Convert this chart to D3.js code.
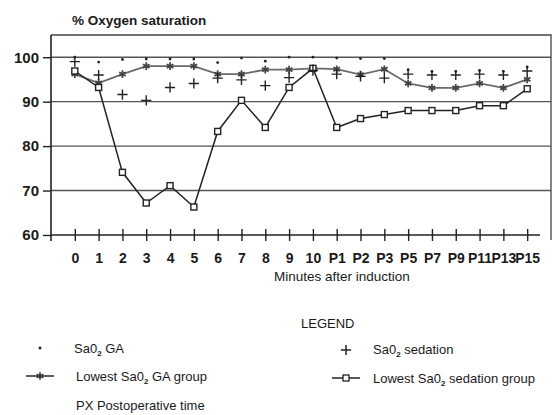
<!DOCTYPE html>
<html>
<head>
<meta charset="utf-8">
<script src="https://cdn.jsdelivr.net/npm/d3@7"></script>
<style>
  body { margin: 0; background: #fff; }
  text { font-family: "Liberation Sans", Arial, sans-serif; fill: #1a1a1a; }
</style>
</head>
<body>
<svg id="chart" width="552" height="415"></svg>
<script>
// data
const categories = ["0", "1", "2", "3", "4", "5", "6", "7", "8", "9", "10",
  "P1", "P2", "P3", "P5", "P7", "P9", "P11", "P13", "P15"];
const gaValues = [100, 98.9, 99.5, 99.6, 99.6, 99.6, 98.8, 99.8, 99.1, 100, 100,
  99.8, 99.7, 99.7, 97.2, 96.8, 96.8, 97, 96.8, 97.8];
const sedationValues = [99, 96, 91.6, 90.3, 93.2, 94.1, 95.3, 94.9, 93.6, 95.4, 97,
  96.2, 95.7, 95.3, 96.2, 96, 96, 96.2, 96, 96.9];
const lowestGA = [96.2, 94.2, 96.2, 98, 98, 98, 96.2, 96.2, 97.2, 97.2, 97.5,
  97.3, 96.1, 97.3, 94.1, 93.1, 93.1, 94.1, 93.1, 95];
const lowestSedation = [96.9, 93.2, 74.1, 67.2, 71.1, 66.3, 83.3, 90.3, 84.2, 93.2, 97.5,
  84.2, 86.2, 87.1, 88, 88, 88, 89.1, 89.1, 92.9];
const yTicks = [60, 70, 80, 90, 100];

const svg = d3.select("#chart");

const x = d3.scalePoint().domain(categories).range([51, 551]).padding(1);
const y = d3.scaleLinear().domain([60, 105]).range([235, 35]);

// gridlines
svg.append("g")
  .selectAll("line")
  .data(yTicks.filter(d => d > 60))
  .join("line")
  .attr("x1", 51).attr("x2", 551)
  .attr("y1", d => y(d)).attr("y2", d => y(d))
  .attr("stroke", "#555").attr("stroke-width", 1.4);

// frame
svg.append("path")
  .attr("d", `M51,${y(105)}H551V${y(60) + 5}`)
  .attr("fill", "none").attr("stroke", "#444").attr("stroke-width", 1.3);

// y axis
const yAxis = svg.append("g").attr("transform", "translate(51,0)")
  .call(d3.axisLeft(y).tickValues(yTicks).tickSize(8).tickPadding(4));
yAxis.select(".domain").attr("d", `M0,${y(105)}V${y(60) + 6}`)
  .attr("stroke", "#222").attr("stroke-width", 1.6);
yAxis.selectAll(".tick line").attr("stroke", "#222").attr("stroke-width", 1.4);
yAxis.selectAll(".tick text")
  .style("font-family", "'Liberation Sans', Arial, sans-serif")
  .style("font-size", "15px").style("font-weight", "bold").attr("fill", "#1a1a1a");

// x axis
const xAxis = svg.append("g").attr("transform", `translate(0,${y(60)})`)
  .call(d3.axisBottom(x).tickSize(6).tickPadding(12));
xAxis.select(".domain").attr("d", "M51,0H540").attr("stroke", "#222").attr("stroke-width", 1.6);
xAxis.selectAll(".tick line").attr("y1", -6).attr("y2", 6)
  .attr("stroke", "#222").attr("stroke-width", 1.4);
xAxis.selectAll(".tick text")
  .style("font-family", "'Liberation Sans', Arial, sans-serif")
  .style("font-size", "14px").style("font-weight", "bold").attr("fill", "#1a1a1a");

// titles
svg.append("text").attr("x", 72).attr("y", 25)
  .style("font-size", "13.5px").style("font-weight", "bold").text("% Oxygen saturation");
svg.append("text").attr("x", 274).attr("y", 281)
  .style("font-size", "13.5px").text("Minutes after induction");

// series
const lineGen = d3.line().x((d, i) => x(categories[i])).y(d => y(d));

svg.append("path").datum(lowestGA)
  .attr("d", lineGen).attr("fill", "none")
  .attr("stroke", "#6a6a6a").attr("stroke-width", 1.8);
svg.append("path").datum(lowestSedation)
  .attr("d", lineGen).attr("fill", "none")
  .attr("stroke", "#222").attr("stroke-width", 1.5);

const star = d3.symbol().type(d3.symbolAsterisk).size(40);
const plus = d3.symbol().type(d3.symbolPlus).size(36);

svg.append("g").selectAll("path")
  .data(lowestGA).join("path")
  .attr("transform", (d, i) => `translate(${x(categories[i])},${y(d)})`)
  .attr("d", star).attr("fill", "none")
  .attr("stroke", "#444").attr("stroke-width", 1.8);

svg.append("g").selectAll("rect")
  .data(lowestSedation).join("rect")
  .attr("x", (d, i) => x(categories[i]) - 3).attr("y", d => y(d) - 3)
  .attr("width", 6).attr("height", 6)
  .attr("fill", "#fff").attr("stroke", "#222").attr("stroke-width", 1.4);

svg.append("g").selectAll("path")
  .data(sedationValues).join("path")
  .attr("transform", (d, i) => `translate(${x(categories[i])},${y(d)})`)
  .attr("d", plus).attr("fill", "none")
  .attr("stroke", "#222").attr("stroke-width", 1.4);

svg.append("g").selectAll("circle")
  .data(gaValues).join("circle")
  .attr("cx", (d, i) => x(categories[i])).attr("cy", d => y(d))
  .attr("r", 1.4).attr("fill", "#222");

// legend
svg.append("text").attr("x", 301).attr("y", 328)
  .style("font-size", "13px").text("LEGEND");

function sa0Label(g, xPos, yPos, before, after) {
  const t = g.append("text").attr("x", xPos).attr("y", yPos).style("font-size", "13px");
  t.append("tspan").text(before + "Sa0");
  t.append("tspan").attr("dy", 3).style("font-size", "8px").style("font-weight", "bold").text("2");
  t.append("tspan").attr("dy", -3).text(after);
}

const legend = svg.append("g");
legend.append("circle").attr("cx", 40).attr("cy", 348).attr("r", 1.5).attr("fill", "#222");
sa0Label(legend, 74, 353, "", " GA");

legend.append("line").attr("x1", 26).attr("x2", 54).attr("y1", 376).attr("y2", 376)
  .attr("stroke", "#333").attr("stroke-width", 1.6);
legend.append("path").attr("transform", "translate(40,376)")
  .attr("d", star).attr("fill", "none").attr("stroke", "#333").attr("stroke-width", 1.6);
sa0Label(legend, 76, 381, "Lowest ", " GA group");

legend.append("text").attr("x", 76).attr("y", 410)
  .style("font-size", "13px").text("PX Postoperative time");

legend.append("path").attr("transform", "translate(346,350)")
  .attr("d", plus).attr("fill", "none").attr("stroke", "#222").attr("stroke-width", 1.5);
sa0Label(legend, 373, 354, "", " sedation");

legend.append("line").attr("x1", 332).attr("x2", 360).attr("y1", 378).attr("y2", 378)
  .attr("stroke", "#222").attr("stroke-width", 1.5);
legend.append("rect").attr("x", 343).attr("y", 375).attr("width", 6).attr("height", 6)
  .attr("fill", "#fff").attr("stroke", "#222").attr("stroke-width", 1.3);
sa0Label(legend, 373, 383, "Lowest ", " sedation group");
</script>
</body>
</html>
